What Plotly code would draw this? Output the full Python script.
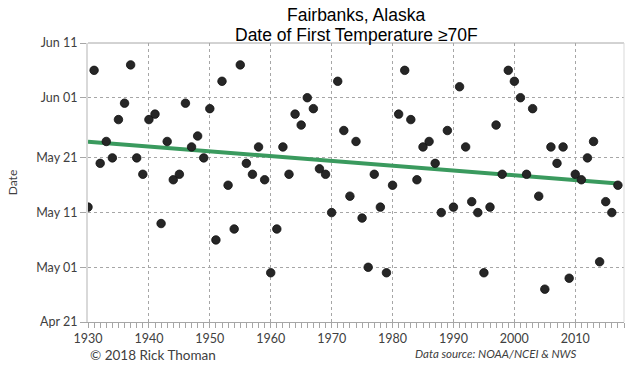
import numpy as np
import pandas as pd
import plotly.graph_objects as go

years = list(range(1930, 2018))
first70 = [
    "05-12", "06-06", "05-20", "05-24", "05-21", "05-28", "05-31", "06-07", "05-21", "05-18",  # 1930s
    "05-28", "05-29", "05-09", "05-24", "05-17", "05-18", "05-31", "05-23", "05-25", "05-21",  # 1940s
    "05-30", "05-06", "06-04", "05-16", "05-08", "06-07", "05-20", "05-18", "05-23", "05-17",  # 1950s
    "04-30", "05-08", "05-23", "05-18", "05-29", "05-27", "06-01", "05-30", "05-19", "05-18",  # 1960s
    "05-11", "06-04", "05-26", "05-14", "05-24", "05-10", "05-01", "05-18", "05-12", "04-30",  # 1970s
    "05-16", "05-29", "06-06", "05-28", "05-17", "05-23", "05-24", "05-20", "05-11", "05-26",  # 1980s
    "05-12", "06-03", "05-23", "05-13", "05-11", "04-30", "05-12", "05-27", "05-18", "06-06",  # 1990s
    "06-04", "06-01", "05-18", "05-30", "05-14", "04-27", "05-23", "05-20", "05-23", "04-29",  # 2000s
    "05-18", "05-17", "05-21", "05-24", "05-02", "05-13", "05-11", "05-16",                    # 2010s
]
ytick_dates = ["04-21", "05-01", "05-11", "05-21", "06-01", "06-11"]
ytick_labels = ["Apr 21", "May 01", "May 11", "May 21", "Jun 01", "Jun 11"]
xtick_years = [1930, 1940, 1950, 1960, 1970, 1980, 1990, 2000, 2010]

REF = "2018-"
dates = pd.to_datetime([REF + d for d in first70])
base = pd.Timestamp(REF + "01-01")
doy = np.array([(d - base).total_seconds() / 86400.0 for d in dates])
yrs = np.array(years, dtype=float)
slope, intercept = np.polyfit(yrs, doy, 1)
trend_x = [years[0], years[-1]]
trend_y = [base + pd.Timedelta(days=float(slope * x + intercept)) for x in trend_x]

TICKFONT = "Lato, Open Sans, sans-serif"
TITLEFONT = "Liberation Sans, Arial, sans-serif"
GRIDDASH = "dot"
GRIDCOLOR = "#a6a6a6"

fig = go.Figure()
fig.add_trace(go.Scatter(
    x=trend_x, y=trend_y, mode="lines",
    line=dict(color="#3a9a5e", width=4), hoverinfo="skip", showlegend=False,
))
fig.add_trace(go.Scatter(
    x=years, y=dates, mode="markers",
    marker=dict(color="#262626", size=8.5, line=dict(color="#111111", width=0.8)),
    showlegend=False,
))

fig.update_layout(
    width=640, height=384,
    margin=dict(l=80, r=16, t=43, b=62),
    paper_bgcolor="white", plot_bgcolor="white",
    font=dict(family=TICKFONT, size=12, color="#404040"),
    xaxis=dict(
        range=[1930, 2018], tickvals=xtick_years, ticktext=[str(v) for v in xtick_years],
        ticks="outside", ticklen=5, tickcolor="#a6a6a6",
        minor=dict(dtick=1, tick0=1930, ticks="outside", ticklen=5, tickcolor="#a6a6a6", showgrid=False),
        showgrid=True, gridcolor=GRIDCOLOR, griddash=GRIDDASH, gridwidth=1,
        showline=True, linecolor="#a6a6a6", linewidth=1, mirror=False,
        zeroline=False, tickfont=dict(family=TICKFONT, size=12.5, color="#404040"),
    ),
    yaxis=dict(
        range=[REF + ytick_dates[0], REF + ytick_dates[-1]],
        tickvals=[REF + d for d in ytick_dates], ticktext=ytick_labels,
        ticks="outside", ticklen=6, tickcolor="#a6a6a6",
        showgrid=True, gridcolor=GRIDCOLOR, griddash=GRIDDASH, gridwidth=1,
        showline=True, linecolor="#d9d9d9", linewidth=2,
        zeroline=False, tickfont=dict(family=TICKFONT, size=12.5, color="#404040"),
        title=dict(text="Date", font=dict(family=TICKFONT, size=12, color="#404040"), standoff=16),
    ),
    shapes=[
        dict(type="line", xref="paper", yref="paper", x0=0, x1=1, y0=1, y1=1,
             line=dict(color="#a6a6a6", width=1)),
        dict(type="line", xref="paper", yref="paper", x0=1, x1=1, y0=0, y1=1,
             line=dict(color="#d9d9d9", width=1)),
    ],
    annotations=[
        dict(text="Fairbanks, Alaska", xref="paper", yref="paper",
             x=0.5, y=1.100, xanchor="center", yanchor="middle", showarrow=False,
             font=dict(family=TITLEFONT, size=17.5, color="#000000")),
        dict(text="Date of First Temperature \u226570F", xref="paper", yref="paper",
             x=0.5, y=1.029, xanchor="center", yanchor="middle", showarrow=False,
             font=dict(family=TITLEFONT, size=17.5, color="#000000")),
        dict(text="\u00a9 2018 Rick Thoman", xref="paper", yref="paper",
             x=0, y=-0.117, xanchor="left", yanchor="middle", showarrow=False,
             font=dict(family=TICKFONT, size=13.5, color="#404040")),
        dict(text="<i>Data source: NOAA/NCEI &amp; NWS</i>", xref="paper", yref="paper",
             x=0.915, y=-0.112, xanchor="right", yanchor="middle", showarrow=False,
             font=dict(family=TICKFONT, size=11.5, color="#404040")),
    ],
)

fig.write_html("out.html", config={"displayModeBar": False},
               post_script="document.body.style.margin='0';")
